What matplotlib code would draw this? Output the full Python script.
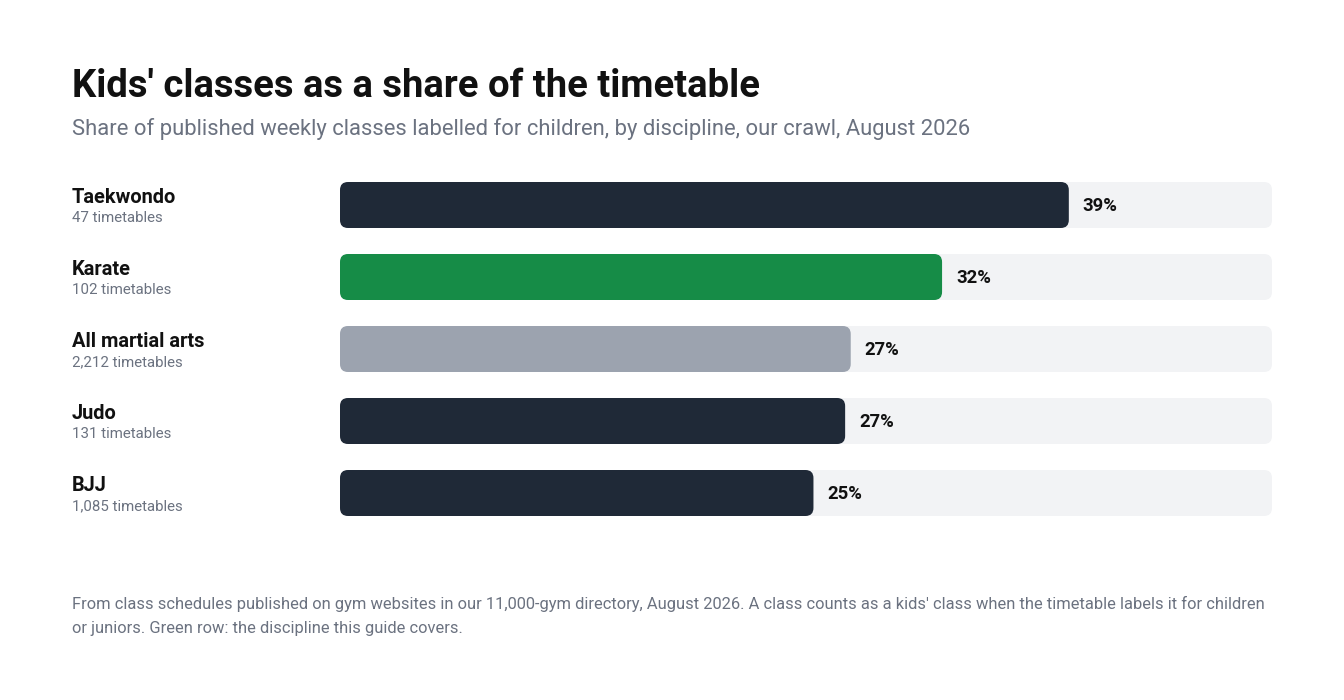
import matplotlib.pyplot as plt
from matplotlib.patches import FancyBboxPatch

plt.rcParams["font.family"] = ["Roboto", "DejaVu Sans"]

# ---------- data ----------
disciplines = ["Taekwondo", "Karate", "All martial arts", "Judo", "BJJ"]
timetables = ["47 timetables", "102 timetables", "2,212 timetables",
              "131 timetables", "1,085 timetables"]
kids_share = [39.1, 32.3, 27.4, 27.1, 25.4]   # % of weekly classes
value_labels = ["39%", "32%", "27%", "27%", "25%"]
bar_colors = ["#1f2937", "#168c47", "#9ca3af", "#1f2937", "#1f2937"]
x_max = 50

TITLE = "Kids' classes as a share of the timetable"
SUBTITLE = ("Share of published weekly classes labelled for children, "
            "by discipline, our crawl, August 2026")
FOOTER = [
    "From class schedules published on gym websites in our 11,000-gym directory, "
    "August 2026. A class counts as a kids' class when the timetable labels it for children",
    "or juniors. Green row: the discipline this guide covers.",
]

# ---------- layout (pixels) ----------
W, H = 1344, 700
track_l, track_r = 340, 1272
row_top, row_pitch, bar_h_px = 169, 72, 46
radius_px = 8

fig = plt.figure(figsize=(W / 100, H / 100), dpi=100)
fig.patch.set_facecolor("white")

n = len(disciplines)
ax = fig.add_axes([track_l / W, 1 - (row_top + n * row_pitch) / H,
                   (track_r - track_l) / W, n * row_pitch / H])
ax.set_xlim(0, x_max)
ax.set_ylim(n - 0.5, -0.5)
ax.axis("off")

px_x = x_max / (track_r - track_l)      # data units per pixel, x
px_y = 1 / row_pitch                    # data units per pixel, y
bh = bar_h_px * px_y
r = radius_px * px_x
aspect = px_y / px_x


def rounded_bar(x0, width, y, color):
    p = FancyBboxPatch((x0, y - bh / 2), width, bh,
                       boxstyle=f"round,pad=0,rounding_size={r}",
                       mutation_aspect=aspect, facecolor=color,
                       edgecolor="none", linewidth=0)
    ax.add_patch(p)


for i, (name, sub, val, lab, col) in enumerate(
        zip(disciplines, timetables, kids_share, value_labels, bar_colors)):
    rounded_bar(0, x_max, i, "#f2f3f5")
    rounded_bar(0, val, i, col)
    ax.annotate(lab, (val, i), xytext=(14, -1), textcoords="offset pixels",
                ha="left", va="center", fontsize=13.3, fontweight="bold",
                color="#111111")
    ax.annotate(name, (72, i), xycoords=("figure pixels", "data"),
                xytext=(0, 2), textcoords="offset pixels",
                ha="left", va="baseline", fontsize=14.4, fontweight="bold",
                color="#111111")
    ax.annotate(sub, (72, i), xycoords=("figure pixels", "data"),
                xytext=(0, -17), textcoords="offset pixels",
                ha="left", va="baseline", fontsize=10.8, color="#6b7280")

# ---------- titles ----------
fig.text(72 / W, 1 - 97 / H, TITLE, ha="left", va="baseline",
         fontsize=27.5, fontweight="bold", color="#111111")
fig.text(72 / W, 1 - 135 / H, SUBTITLE, ha="left", va="baseline",
         fontsize=15.8, color="#6b7280")
for k, line in enumerate(FOOTER):
    fig.text(72 / W, 1 - (609 + 24 * k) / H, line, ha="left", va="baseline",
             fontsize=11.9, color="#6b7280")

fig.savefig("out.png", dpi=100, facecolor="white")
